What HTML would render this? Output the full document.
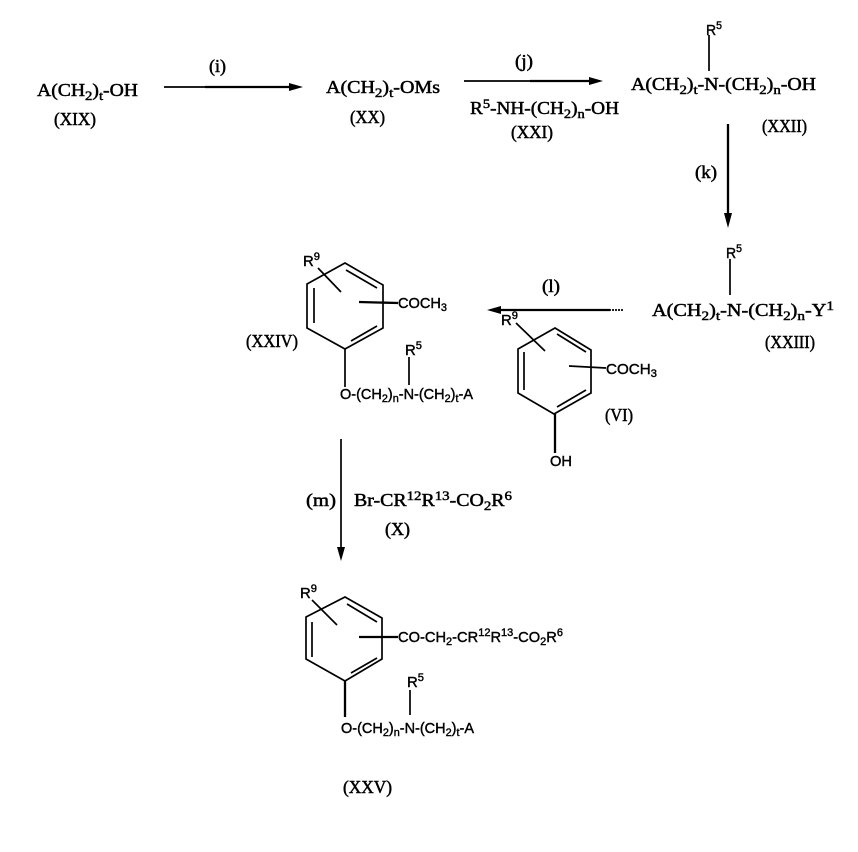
<!DOCTYPE html>
<html>
<head>
<meta charset="utf-8">
<style>
html,body{margin:0;padding:0;background:#fff;width:858px;height:852px;overflow:hidden}
svg{display:block}
text{fill:#000;white-space:pre}
.s{font-family:"Liberation Serif",serif;font-size:17.5px;stroke:#000;stroke-width:.5px}
.a{font-family:"Liberation Sans",sans-serif;font-size:14.5px;stroke:#000;stroke-width:.4px}
.l{stroke:#000;stroke-width:1.7;fill:none}
.h{stroke:#000;stroke-width:2.3;fill:none}
.n{font-size:75%}
</style>
</head>
<body>
<svg width="858" height="852" viewBox="0 0 858 852" xmlns="http://www.w3.org/2000/svg">
<!-- top row -->
<text class="s" x="37" y="96" textLength="101" lengthAdjust="spacingAndGlyphs">A(CH<tspan class="n" dy="4">2</tspan><tspan dy="-4">)</tspan><tspan class="n" dy="4">t</tspan><tspan dy="-4">-OH</tspan></text>
<text class="s" x="54" y="125" textLength="42" lengthAdjust="spacingAndGlyphs">(XIX)</text>
<path class="l" d="M164 87H295"/><path class="h" d="M205 87H290"/><path d="M289 83L303 87L289 91Z"/>
<text class="s" x="209" y="72" textLength="17" lengthAdjust="spacingAndGlyphs">(i)</text>
<text class="s" x="326" y="93" textLength="114" lengthAdjust="spacingAndGlyphs">A(CH<tspan class="n" dy="4">2</tspan><tspan dy="-4">)</tspan><tspan class="n" dy="4">t</tspan><tspan dy="-4">-OMs</tspan></text>
<text class="s" x="350" y="123" textLength="35" lengthAdjust="spacingAndGlyphs">(XX)</text>
<path class="l" d="M464 81H595"/><path class="h" d="M530 81H590"/><path d="M589 77L603 81L589 85Z"/>
<text class="s" x="515" y="67" textLength="18" lengthAdjust="spacingAndGlyphs">(j)</text>
<text class="s" x="470" y="114" textLength="149" lengthAdjust="spacingAndGlyphs">R<tspan class="n" dy="-6">5</tspan><tspan dy="6">-NH-(CH</tspan><tspan class="n" dy="4">2</tspan><tspan dy="-4">)</tspan><tspan class="n" dy="4">n</tspan><tspan dy="-4">-OH</tspan></text>
<text class="s" x="511" y="138" textLength="42" lengthAdjust="spacingAndGlyphs">(XXI)</text>
<text class="a" x="706" y="35" textLength="16" lengthAdjust="spacingAndGlyphs">R<tspan class="n" dy="-6">5</tspan></text>
<path class="l" d="M709 35V71"/>
<text class="s" x="631" y="90" textLength="185" lengthAdjust="spacingAndGlyphs">A(CH<tspan class="n" dy="4">2</tspan><tspan dy="-4">)</tspan><tspan class="n" dy="4">t</tspan><tspan dy="-4">-N-(CH</tspan><tspan class="n" dy="4">2</tspan><tspan dy="-4">)</tspan><tspan class="n" dy="4">n</tspan><tspan dy="-4">-OH</tspan></text>
<text class="s" x="762" y="132" textLength="45" lengthAdjust="spacingAndGlyphs">(XXII)</text>
<!-- k -->
<path class="h" d="M728 124V221"/><path d="M724 213H732L728 228Z"/>
<text class="s" x="695" y="178" textLength="22" lengthAdjust="spacingAndGlyphs">(k)</text>
<!-- XXIII -->
<text class="a" x="726" y="258" textLength="16" lengthAdjust="spacingAndGlyphs">R<tspan class="n" dy="-6">5</tspan></text>
<path class="l" d="M730 259V295"/>
<text class="s" x="652" y="316" textLength="182" lengthAdjust="spacingAndGlyphs">A(CH<tspan class="n" dy="4">2</tspan><tspan dy="-4">)</tspan><tspan class="n" dy="4">t</tspan><tspan dy="-4">-N-(CH</tspan><tspan class="n" dy="4">2</tspan><tspan dy="-4">)</tspan><tspan class="n" dy="4">n</tspan><tspan dy="-4">-Y</tspan><tspan class="n" dy="-6">1</tspan></text>
<text class="s" x="765" y="348" textLength="50" lengthAdjust="spacingAndGlyphs">(XXIII)</text>
<!-- l -->
<path class="h" d="M610 310H495"/><path class="l" d="M623 310H605" stroke-dasharray="2 1"/><path d="M501 306L487 310L501 314Z"/>
<text class="s" x="542" y="292" textLength="18" lengthAdjust="spacingAndGlyphs">(l)</text>
<!-- XXIV -->
<path class="l" d="M345 263L383 285V328L345 349L307 328V284Z"/>
<path class="l" d="M346 270L377 288M314 288V323M351 341L377 326"/>
<path class="l" d="M318 268L341 292"/>
<path class="h" d="M359 302L398 303"/>
<text class="a" x="303" y="266" textLength="17" lengthAdjust="spacingAndGlyphs">R<tspan class="n" dy="-6">9</tspan></text>
<text class="a" x="398" y="308" textLength="49" lengthAdjust="spacingAndGlyphs">COCH<tspan class="n" dy="3">3</tspan></text>
<text class="s" x="246" y="347" textLength="52" lengthAdjust="spacingAndGlyphs">(XXIV)</text>
<path class="l" d="M345 349V387M409 357V385"/>
<text class="a" x="405" y="355" textLength="17" lengthAdjust="spacingAndGlyphs">R<tspan class="n" dy="-6">5</tspan></text>
<text class="a" x="340" y="399" textLength="133" lengthAdjust="spacingAndGlyphs">O-(CH<tspan class="n" dy="3">2</tspan><tspan dy="-3">)</tspan><tspan class="n" dy="3">n</tspan><tspan dy="-3">-N-(CH</tspan><tspan class="n" dy="3">2</tspan><tspan dy="-3">)</tspan><tspan class="n" dy="3">t</tspan><tspan dy="-3">-A</tspan></text>
<!-- VI -->
<path class="l" d="M555 328L591 350V393L554 414L518 393V349Z"/>
<path class="l" d="M557 334L586 352M524 352V390M557 407L586 390"/>
<path class="l" d="M516 323L545 351M569 366L606 368"/>
<text class="a" x="501" y="325" textLength="17" lengthAdjust="spacingAndGlyphs">R<tspan class="n" dy="-6">9</tspan></text>
<text class="a" x="606" y="374" textLength="51" lengthAdjust="spacingAndGlyphs">COCH<tspan class="n" dy="3">3</tspan></text>
<text class="s" x="605" y="421" textLength="28" lengthAdjust="spacingAndGlyphs">(VI)</text>
<path class="h" d="M555 414V453"/>
<text class="a" x="550" y="466" textLength="22" lengthAdjust="spacingAndGlyphs">OH</text>
<!-- m -->
<path class="l" d="M341 439V552"/><path d="M337 547H345L341 561Z"/>
<text class="s" x="306" y="506" textLength="30" lengthAdjust="spacingAndGlyphs">(m)</text>
<text class="s" x="354" y="506" textLength="158" lengthAdjust="spacingAndGlyphs">Br-CR<tspan class="n" dy="-6">12</tspan><tspan dy="6">R</tspan><tspan class="n" dy="-6">13</tspan><tspan dy="6">-CO</tspan><tspan class="n" dy="4">2</tspan><tspan dy="-4">R</tspan><tspan class="n" dy="-6">6</tspan></text>
<text class="s" x="385" y="535" textLength="25" lengthAdjust="spacingAndGlyphs">(X)</text>
<!-- XXV -->
<path class="l" d="M345 597L382 618V659L345 681L306 659V617Z"/>
<path class="l" d="M347 604L377 622M312 622V657M351 673L377 658"/>
<path class="l" d="M312 600L337 625"/>
<path class="h" d="M359 637H398"/>
<text class="a" x="300" y="598" textLength="17" lengthAdjust="spacingAndGlyphs">R<tspan class="n" dy="-6">9</tspan></text>
<text class="a" x="398" y="642" textLength="165" lengthAdjust="spacingAndGlyphs">CO-CH<tspan class="n" dy="3">2</tspan><tspan dy="-3">-CR</tspan><tspan class="n" dy="-6">12</tspan><tspan dy="6">R</tspan><tspan class="n" dy="-6">13</tspan><tspan dy="6">-CO</tspan><tspan class="n" dy="3">2</tspan><tspan dy="-3">R</tspan><tspan class="n" dy="-6">6</tspan></text>
<path class="h" d="M345 681V717"/><path class="l" d="M410 690V715"/>
<text class="a" x="407" y="687" textLength="17" lengthAdjust="spacingAndGlyphs">R<tspan class="n" dy="-6">5</tspan></text>
<text class="a" x="341" y="733" textLength="133" lengthAdjust="spacingAndGlyphs">O-(CH<tspan class="n" dy="3">2</tspan><tspan dy="-3">)</tspan><tspan class="n" dy="3">n</tspan><tspan dy="-3">-N-(CH</tspan><tspan class="n" dy="3">2</tspan><tspan dy="-3">)</tspan><tspan class="n" dy="3">t</tspan><tspan dy="-3">-A</tspan></text>
<text class="s" x="343" y="793" textLength="49" lengthAdjust="spacingAndGlyphs">(XXV)</text>
</svg>
</body>
</html>
